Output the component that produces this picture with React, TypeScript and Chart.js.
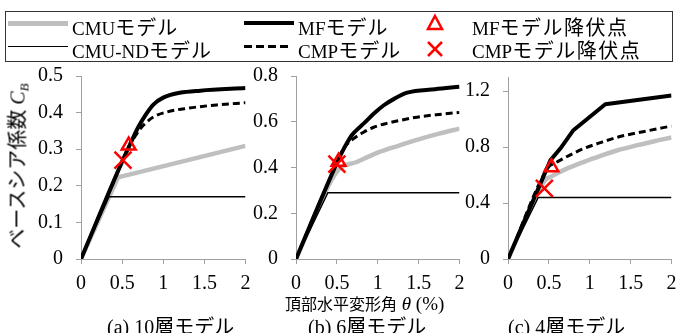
import React, { useEffect, useRef } from 'react';
import { Chart, registerables } from 'chart.js';

Chart.register(...registerables);

type P = [number, number];

// ---------- data ----------
const X_TICKS = [0, 0.5, 1, 1.5, 2];

// (a) 10層モデル
const A_Y_TICKS = [0, 0.1, 0.2, 0.3, 0.4, 0.5];
const A_CMU: P[] = [[0, 0], [0.45, 0.223], [2, 0.309]];
const A_CMU_ND: P[] = [[0, 0], [0.34, 0.17], [2, 0.17]];
const A_MF: P[] = [[0, 0], [0.5, 0.266], [0.6, 0.315], [0.7, 0.362], [0.78, 0.392], [0.88, 0.422], [1.0, 0.441], [1.2, 0.454], [1.45, 0.46], [2, 0.467]];
const A_CMP: P[] = [[0, 0], [0.5, 0.266], [0.6, 0.315], [0.66, 0.336], [0.72, 0.356], [0.8, 0.374], [0.88, 0.388], [1.05, 0.402], [1.3, 0.412], [1.65, 0.421], [2, 0.427]];
const A_MF_YIELD: P[] = [[0.58, 0.31]];
const A_CMP_YIELD: P[] = [[0.51, 0.27]];

// (b) 6層モデル
const B_Y_TICKS = [0, 0.2, 0.4, 0.6, 0.8];
const B_CMU: P[] = [[0, 0], [0.5, 0.382], [0.75, 0.425], [1.0, 0.465], [1.25, 0.495], [1.5, 0.523], [1.75, 0.548], [2, 0.57]];
const B_CMU_ND: P[] = [[0, 0], [0.39, 0.29], [2, 0.29]];
const B_MF: P[] = [[0, 0], [0.5, 0.42], [0.56, 0.465], [0.62, 0.505], [0.68, 0.54], [0.75, 0.567], [0.83, 0.593], [0.95, 0.635], [1.07, 0.671], [1.2, 0.7], [1.36, 0.727], [1.7, 0.742], [2, 0.753]];
const B_CMP: P[] = [[0, 0], [0.5, 0.42], [0.58, 0.482], [0.7, 0.525], [0.83, 0.555], [0.95, 0.576], [1.11, 0.593], [1.3, 0.608], [1.48, 0.62], [1.75, 0.632], [2, 0.641]];
const B_MF_YIELD: P[] = [[0.52, 0.425]];
const B_CMP_YIELD: P[] = [[0.5, 0.415]];

// (c) 4層モデル
const C_Y_TICKS = [0, 0.4, 0.8, 1.2];
const C_CMU: P[] = [[0, 0], [0.45, 0.56], [0.52, 0.587], [0.7, 0.64], [0.93, 0.694], [1.15, 0.74], [1.34, 0.777], [1.6, 0.815], [1.8, 0.843], [2, 0.868]];
const C_CMU_ND: P[] = [[0, 0], [0.37, 0.44], [2, 0.44]];
const C_MF: P[] = [[0, 0], [0.52, 0.706], [0.64, 0.789], [0.8, 0.92], [1.19, 1.105], [2, 1.168]];
const C_CMP: P[] = [[0, 0], [0.5, 0.66], [0.56, 0.68], [0.64, 0.706], [0.8, 0.755], [0.93, 0.79], [1.15, 0.835], [1.34, 0.87], [1.7, 0.915], [2, 0.95]];
const C_MF_YIELD: P[] = [[0.53, 0.656]];
const C_CMP_YIELD: P[] = [[0.445, 0.504]];

// ---------- styling ----------
const SERIF = '"Liberation Serif", "Times New Roman", serif';
const CJK = '"Noto Sans CJK JP", "Noto Sans CJK SC", sans-serif';
const AXIS = '#a0a0a0';
const GRAY = '#bfbfbf';
const RED = '#ff0000';

type Panel = {
  cmu: P[]; cmuNd: P[]; mf: P[]; cmp: P[]; mfY: P[]; cmpY: P[];
  yTicks: number[]; yMax: number; cmuCurve: boolean; mfCurve: boolean;
  area: { left: number; top: number; right: number; bottom: number };
};

const PANELS: Panel[] = [
  { cmu: A_CMU, cmuNd: A_CMU_ND, mf: A_MF, cmp: A_CMP, mfY: A_MF_YIELD, cmpY: A_CMP_YIELD, yTicks: A_Y_TICKS, yMax: 0.5, cmuCurve: false, mfCurve: true,
    area: { left: 81, top: 76, right: 245, bottom: 259 } },
  { cmu: B_CMU, cmuNd: B_CMU_ND, mf: B_MF, cmp: B_CMP, mfY: B_MF_YIELD, cmpY: B_CMP_YIELD, yTicks: B_Y_TICKS, yMax: 0.8, cmuCurve: true, mfCurve: true,
    area: { left: 296, top: 76, right: 459, bottom: 259 } },
  { cmu: C_CMU, cmuNd: C_CMU_ND, mf: C_MF, cmp: C_CMP, mfY: C_MF_YIELD, cmpY: C_CMP_YIELD, yTicks: C_Y_TICKS, yMax: 1.3, cmuCurve: true, mfCurve: false,
    area: { left: 508, top: 77, right: 671, bottom: 259 } },
];

const pts = (a: P[]) => a.map(([x, y]) => ({ x, y }));

function makeConfig(pn: Panel): any {
  const tickFont = { family: SERIF, size: 20 };
  return {
    type: 'line',
    data: {
      datasets: [
        { label: 'CMPモデル降伏点', data: pts(pn.cmpY), showLine: false, pointStyle: 'crossRot', pointRadius: 12,
          pointBorderColor: RED, pointBackgroundColor: 'rgba(0,0,0,0)', pointBorderWidth: 2.5, borderColor: RED },
        { label: 'MFモデル降伏点', data: pts(pn.mfY), showLine: false, pointStyle: 'triangle', pointRadius: 8,
          pointBorderColor: RED, pointBackgroundColor: 'rgba(0,0,0,0)', pointBorderWidth: 2.5, borderColor: RED },
        { label: 'CMPモデル', data: pts(pn.cmp), borderColor: '#000', borderWidth: 3, borderDash: [7, 4], pointRadius: 0,
          cubicInterpolationMode: 'monotone', fill: false },
        { label: 'MFモデル', data: pts(pn.mf), borderColor: '#000', borderWidth: 4, pointRadius: 0,
          cubicInterpolationMode: pn.mfCurve ? 'monotone' : 'default', tension: 0, fill: false, borderJoinStyle: 'round' },
        { label: 'CMU-NDモデル', data: pts(pn.cmuNd), borderColor: '#000', borderWidth: 1.5, pointRadius: 0, tension: 0, fill: false },
        { label: 'CMUモデル', data: pts(pn.cmu), borderColor: GRAY, borderWidth: 4.5, pointRadius: 0,
          cubicInterpolationMode: pn.cmuCurve ? 'monotone' : 'default', tension: 0, fill: false },
      ],
    },
    options: {
      animation: false,
      responsive: false,
      maintainAspectRatio: false,
      events: [],
      layout: { padding: 0 },
      plugins: { legend: { display: false }, tooltip: { enabled: false }, title: { display: false } },
      scales: {
        x: {
          type: 'linear', min: 0, max: 2,
          afterBuildTicks: (s: any) => { s.ticks = X_TICKS.map((v) => ({ value: v })); },
          afterFit: (s: any) => { s.height = 40; },
          ticks: { font: tickFont, color: '#000', padding: 8, maxRotation: 0, autoSkip: false, callback: (v: any) => String(v) },
          grid: { drawOnChartArea: false, drawTicks: true, tickLength: 5, color: AXIS, lineWidth: 1 },
          border: { display: true, color: AXIS, width: 1 },
        },
        y: {
          type: 'linear', min: 0, max: pn.yMax,
          afterBuildTicks: (s: any) => { s.ticks = pn.yTicks.map((v) => ({ value: v })); },
          afterFit: (s: any) => { s.width = 60; },
          ticks: { font: tickFont, color: '#000', padding: 13, autoSkip: false, callback: (v: any) => String(v) },
          grid: { drawOnChartArea: false, drawTicks: true, tickLength: 5, color: AXIS, lineWidth: 1 },
          border: { display: true, color: AXIS, width: 1 },
        },
      },
    },
  };
}

function ChartPanel({ pn }: { pn: Panel }) {
  const ref = useRef<HTMLCanvasElement>(null);
  useEffect(() => {
    const canvas = ref.current!;
    const build = (w: number, h: number) => {
      canvas.width = w;
      canvas.height = h;
      canvas.style.width = w + 'px';
      canvas.style.height = h + 'px';
      return new Chart(canvas, makeConfig(pn));
    };
    let chart = build(300, 300);
    const ca = chart.chartArea;
    const dl = ca.left, dt = ca.top, dr = chart.width - ca.right, db = chart.height - ca.bottom;
    chart.destroy();
    const w = Math.round(pn.area.right - pn.area.left + dl + dr);
    const h = Math.round(pn.area.bottom - pn.area.top + dt + db);
    canvas.style.left = Math.round(pn.area.left - dl) + 'px';
    canvas.style.top = Math.round(pn.area.top - dt) + 'px';
    chart = build(w, h);
    return () => chart.destroy();
  }, [pn]);
  return <canvas ref={ref} style={{ position: 'absolute', left: 0, top: 0 }} />;
}

// text placed by baseline: div line-height = size, Liberation Serif strut
function Txt({ x, base, size, children, style }: { x: number; base: number; size: number; children: any; style?: any }) {
  return (
    <div style={{ position: 'absolute', left: x, top: base - 0.8375 * size, fontFamily: SERIF, fontSize: size,
      lineHeight: size + 'px', whiteSpace: 'nowrap', color: '#000', ...style }}>
      {children}
    </div>
  );
}
const J = ({ s, children, ls }: { s: number; children: any; ls?: number }) => (
  <span style={{ fontFamily: CJK, fontSize: s, lineHeight: 0, letterSpacing: ls ?? 0 }}>{children}</span>
);

function Swatch({ x, y, w, kind }: { x: number; y: number; w: number; kind: string }) {
  let st: any = { position: 'absolute', left: x, width: w };
  if (kind === 'cmu') st = { ...st, top: y - 2.5, height: 5, background: GRAY };
  if (kind === 'nd') st = { ...st, top: y - 0.75, height: 1.5, background: '#000' };
  if (kind === 'mf') st = { ...st, top: y - 2, height: 4, background: '#000' };
  if (kind === 'cmp') st = { ...st, top: y - 1.5, height: 3, background: 'repeating-linear-gradient(to right, #000 0px, #000 8px, transparent 8px, transparent 12px)' };
  return <div style={st} />;
}

export default function App() {
  const L1 = 23.3, L2 = 46.7;
  return (
    <div style={{ position: 'absolute', left: 0, top: 0, width: 677, height: 333, overflow: 'hidden', background: '#fff' }}>
      {PANELS.map((pn, i) => <ChartPanel key={i} pn={pn} />)}

      {/* legend */}
      <div style={{ position: 'absolute', left: 5, top: 11, width: 668, height: 51, border: '1.5px solid #333', boxSizing: 'border-box' }} />
      <Swatch x={8} y={L1} w={60} kind="cmu" />
      <Txt x={72} base={35} size={19}>CMU<J s={20} ls={1}>モデル</J></Txt>
      <Swatch x={8} y={L2} w={60} kind="nd" />
      <Txt x={72} base={58} size={19}>CMU-ND<J s={20} ls={1}>モデル</J></Txt>
      <Swatch x={244} y={L1} w={50} kind="mf" />
      <Txt x={298} base={35} size={19}>MF<J s={20} ls={1}>モデル</J></Txt>
      <Swatch x={244} y={L2} w={48} kind="cmp" />
      <Txt x={298} base={58} size={19}>CMP<J s={20} ls={1}>モデル</J></Txt>
      <svg style={{ position: 'absolute', left: 420, top: 12, overflow: 'visible' }} width={30} height={50}>
        <polygon points="15,4 22,17 8,17" fill="none" stroke={RED} strokeWidth={2.5} strokeLinejoin="miter" />
        <line x1={8} y1={30} x2={22} y2={44} stroke={RED} strokeWidth={2.5} />
        <line x1={22} y1={30} x2={8} y2={44} stroke={RED} strokeWidth={2.5} />
      </svg>
      <Txt x={472} base={35} size={19}>MF<J s={20} ls={1.5}>モデル降伏点</J></Txt>
      <Txt x={472} base={58} size={19}>CMP<J s={20} ls={1.5}>モデル降伏点</J></Txt>

      {/* y title */}
      <div style={{ position: 'absolute', left: 21, top: 166, transform: 'translate(-50%, -50%) rotate(-90deg)',
        whiteSpace: 'nowrap', fontFamily: SERIF, fontSize: 20, lineHeight: '22px', color: '#000' }}>
        <J s={20}>ベースシア係数</J> <i>C</i><i style={{ fontSize: 13, verticalAlign: -4 }}>B</i>
      </div>

      {/* x title */}
      <Txt x={285} base={310} size={19}><J s={16}>頂部水平変形角</J> <i>θ</i> (%)</Txt>

      {/* panel captions */}
      <Txt x={107} base={334} size={20}>(a) 10<J s={20}>層モデル</J></Txt>
      <Txt x={308} base={334} size={20}>(b) 6<J s={20}>層モデル</J></Txt>
      <Txt x={508} base={334} size={20}>(c) 4<J s={20}>層モデル</J></Txt>
    </div>
  );
}
